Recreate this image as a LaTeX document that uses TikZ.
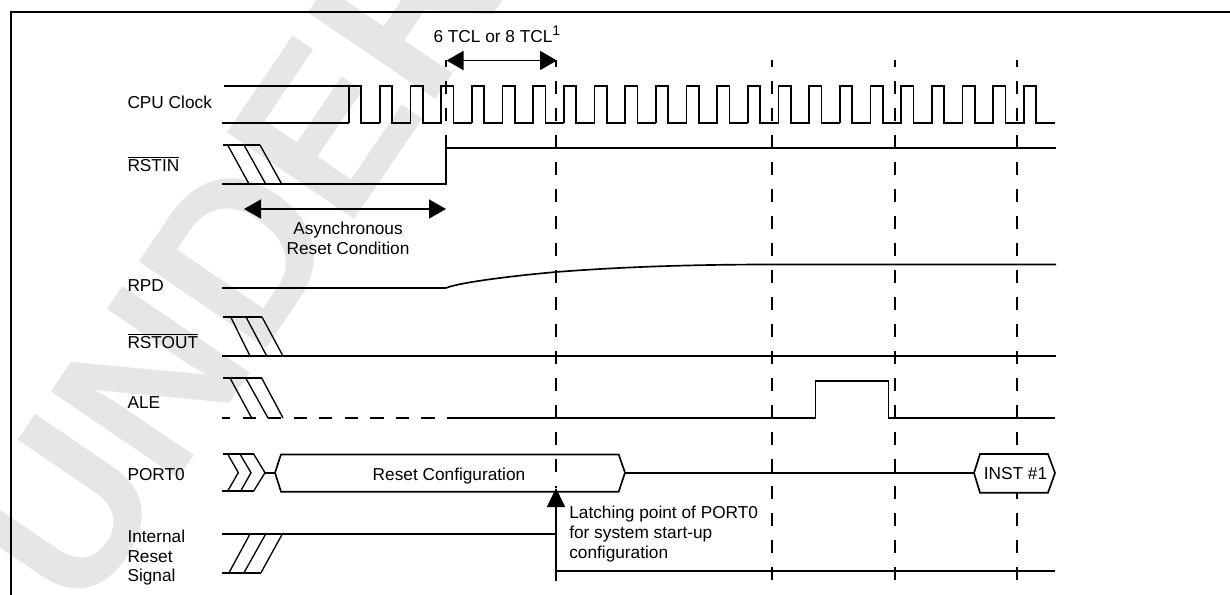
\documentclass[tikz,border=0pt]{standalone}
\usepackage{fontspec}
\setmainfont{Liberation Sans}
\usetikzlibrary{arrows.meta}
\definecolor{wmark}{RGB}{230,230,230}
\newcommand{\olbar}[1]{\leavevmode\vbox{\hrule height 0.75pt \kern 1pt \hbox{#1}}}
\tikzset{
  sig/.style={line width=1.25pt,line cap=butt,line join=miter},
  hatch/.style={line width=1pt},
  vdash/.style={line width=1.25pt,dash pattern=on 10.1pt off 10.15pt,dash phase=4.5pt},
  hdash/.style={line width=1.25pt,dash pattern=on 10pt off 9.15pt,dash phase=3.75pt},
  dim/.style={line width=1.25pt,{Triangle[length=12.75pt,width=14.25pt]}-{Triangle[length=12.75pt,width=14.25pt]}},
  latch/.style={line width=1.25pt,-{Triangle[length=14.25pt,width=13.5pt]}},
  lbl/.style={anchor=base west,inner sep=0pt,outer sep=0pt,font=\fontsize{12.95}{15}\selectfont},
  clbl/.style={anchor=base,inner sep=0pt,outer sep=0pt,font=\fontsize{12.95}{15}\selectfont},
  wm/.style={anchor=base west,inner sep=0pt,outer sep=0pt,text=wmark,rotate=55.8,font=\fontsize{168}{168}\selectfont\bfseries},
}
\begin{document}
\begin{tikzpicture}[x=0.75pt,y=-0.75pt]
\useasboundingbox (0,0) rectangle (1230,595);
% watermark
\begin{scope}
\clip (0,0) rectangle (1230,595);
\node[wm] (watermark) at (82.7,619.5) {\scalebox{0.968}[1]{UNDER}};
\end{scope}
% frame
\draw[line width=1.7pt] (11,595) -- (11,12) -- (1230,12);
% dashed time markers
\draw[vdash] (446,60) -- (446,149);
\draw[vdash] (556,60) -- (556,488);
\draw[vdash] (772,60) -- (772,581);
\draw[vdash] (895,60) -- (895,581);
\draw[vdash] (1017,60) -- (1017,582);
% CPU clock
\draw[sig] (224,86) -- (349,86);
\draw[sig] (222,123) -- (349,123);
\foreach \k in {0,...,22}{
  \pgfmathsetmacro{\up}{349+30.68*\k}
  \pgfmathsetmacro{\dn}{\up+12.3}
  \pgfmathsetmacro{\nx}{ifthenelse(\k==22,1055,\up+30.68+0.6)}
  \draw[sig] (\up,123) -- (\up,86) -- (\dn,86) -- (\dn,123) -- (\nx,123);
}
% RSTIN
\draw[sig] (223,145) -- (260,145);
\draw[sig] (222,184) -- (446,184) -- (446,148) -- (1056,148);
\draw[hatch] (227.7,145) -- (249,184) (244,145) -- (265.7,184) (260,145) -- (281.7,184);
% RPD
\draw[line width=1.25pt] (222,288) -- (446,288) .. controls (456,283.5) and (500,277) .. (556,272) .. controls (620,267) and (690,264.5) .. (772,264.5) -- (1056,264.5);
% RSTOUT
\draw[sig] (223,317) -- (262,317);
\draw[sig] (222,356) -- (1056,356);
\draw[hatch] (230.7,317) -- (250,356) (246,317) -- (266.7,356) (262,317) -- (283,356);
% ALE
\draw[sig] (223,378) -- (262,378);
\draw[hdash] (222,418) -- (447,418);
\draw[sig] (447,418) -- (815.5,418) -- (815.5,381) -- (888.5,381) -- (888.5,418) -- (1055,418);
\draw[hatch] (230,378) -- (251.7,418) (245.7,378) -- (268,418) (261.7,378) -- (283,418);
% PORT0
\draw[sig] (223,454) -- (253.7,454) (222,491) -- (253.7,491);
\draw[hatch] (227.7,454) -- (238.3,472.7) -- (227.7,491);
\draw[hatch] (240,454) -- (251,472.7) -- (240.7,491);
\draw[hatch] (253.7,454) -- (265,472.7) -- (253.7,491);
\draw[sig] (265,472.7) -- (275,472.7);
\draw[sig] (281,454.5) -- (618.7,454.5) -- (625,472.7) -- (618.7,491.7) -- (281,491.7) -- (275,472.7) -- cycle;
\draw[sig] (625,472.7) -- (974,472.7);
\draw[sig,fill=white] (974,473) -- (980,454) -- (1048,454) -- (1055,473) -- (1048,492.7) -- (980,492.7) -- cycle;
% Internal reset
\draw[sig] (222,534) -- (556,534);
\draw[sig] (222,572.7) -- (261,572.7);
\draw[hatch] (229,572.7) -- (250,534) (244,572.7) -- (265.7,534) (261,572.7) -- (282.3,534);
\draw[sig] (556,570.7) -- (1055,570.7);
% latching arrow
\coordinate (latchfoot) at (556,581);
\coordinate (latchtip) at (556,488);
\draw[latch] (latchfoot) -- (latchtip);
% dimension arrows
\coordinate (tclL) at (446.5,60.5);
\coordinate (tclR) at (557,60.5);
\draw[dim] (tclL) -- (tclR);
\coordinate (asyL) at (244,209);
\coordinate (asyR) at (446,209);
\draw[dim] (asyL) -- (asyR);
% labels
\node[lbl] (cpu) at (127.5,109) {CPU Clock};
\node[lbl] (rstin) at (127.5,171.7) {\olbar{RSTIN}};
\node[lbl] (rpd) at (127.5,291.3) {RPD};
\node[lbl] (rstout) at (127.5,348.7) {\olbar{RSTOUT}};
\node[lbl] (ale) at (127.5,408) {ALE};
\node[lbl] (port) at (127.5,480.5) {PORT0};
\node[lbl] (int1) at (127.5,542) {Internal};
\node[lbl] (int2) at (127.5,562) {Reset};
\node[lbl] (int3) at (127.5,581.7) {Signal};
\node[lbl] (tcl) at (433.5,42.5) {6 TCL or 8 TCL\raisebox{0.42em}{\fontsize{10.5}{10.5}\selectfont 1}};
\node[clbl] (asy1) at (348,234.3) {Asynchronous};
\node[clbl] (asy2) at (348,254.3) {Reset Condition};
\node[clbl] (cfg) at (449,480.7) {Reset Configuration};
\node[clbl] (inst) at (1015.5,479.5) {INST \#1};
\node[lbl] (l1) at (569.3,518) {Latching point of PORT0};
\node[lbl] (l2) at (569.3,538) {for system start-up};
\node[lbl] (l3) at (569.3,558) {configuration};
\end{tikzpicture}
\end{document}
